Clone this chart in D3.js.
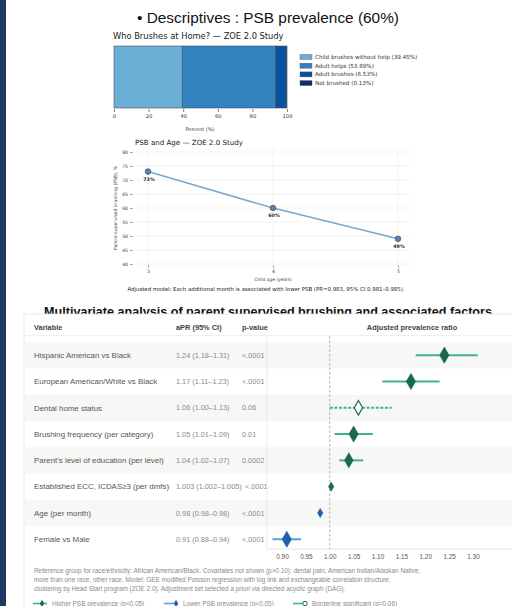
<!DOCTYPE html>
<html>
<head>
<meta charset="utf-8">
<script src="https://cdn.jsdelivr.net/npm/d3@7"></script>
<style>
  html, body { margin: 0; padding: 0; background: #fff; }
  svg { display: block; }
</style>
</head>
<body>
<svg id="slide" width="512" height="606"></svg>
<script>
// ---- Who brushes at home (stacked share) ----
const brushCats = ["Child brushes without help", "Adult helps", "Adult brushes", "Not brushed"];
const brushPct = [39.45, 53.89, 6.53, 0.13];
const brushColors = ["#6baed6", "#3182bd", "#08519c", "#08306b"];
const pctTicks = [0, 20, 40, 60, 80, 100];

// ---- PSB by child age ----
const ages = [3, 4, 5];
const psbPct = [73, 60, 49];
const psbTicks = [40, 45, 50, 55, 60, 65, 70, 75, 80];

// ---- Multivariate model (adjusted prevalence ratios) ----
const variables = [
  "Hispanic American vs Black",
  "European American/White vs Black",
  "Dental home status",
  "Brushing frequency (per category)",
  "Parent's level of education (per level)",
  "Established ECC, ICDAS\u22653 (per dmfs)",
  "Age (per month)",
  "Female vs Male"
];
const aprLabels = ["1.24 (1.18\u20131.31)", "1.17 (1.11\u20131.23)", "1.06 (1.00\u20131.13)", "1.05 (1.01\u20131.09)",
  "1.04 (1.02\u20131.07)", "1.003 (1.002\u20131.005)", "0.98 (0.98\u20130.98)", "0.91 (0.88\u20130.94)"];
const aprEst = [1.24, 1.17, 1.06, 1.05, 1.04, 1.003, 0.98, 0.91];
const aprLow = [1.18, 1.11, 1.00, 1.01, 1.02, 1.002, 0.98, 0.88];
const aprHigh = [1.31, 1.23, 1.13, 1.09, 1.07, 1.005, 0.98, 0.94];
const pValues = ["<.0001", "<.0001", "0.06", "0.01", "0.0002", "<.0001", "<.0001", "<.0001"];
const effect = ["higher", "higher", "borderline", "higher", "higher", "higher", "lower", "lower"];
const aprTicks = [0.90, 0.95, 1.00, 1.05, 1.10, 1.15, 1.20, 1.25, 1.30];
const footnotes = [
  "Reference group for race/ethnicity: African American/Black. Covariates not shown (p>0.10): dental pain, American Indian/Alaskan Native,",
  "more than one race, other race. Model: GEE modified Poisson regression with log link and exchangeable correlation structure,",
  "clustering by Head Start program (ZOE 2.0). Adjustment set selected a priori via directed acyclic graph (DAG)."
];
const legendItems = [
  { key: "higher", label: "Higher PSB prevalence (p<0.05)" },
  { key: "lower", label: "Lower PSB prevalence (p<0.05)" },
  { key: "borderline", label: "Borderline significant (p=0.06)" }
];

const svg = d3.select("#slide");
const sans = "'Liberation Sans', Arial, sans-serif";
const dejavu = "'DejaVu Sans', sans-serif";

// left accent strip
svg.append("rect").attr("x", 0).attr("y", 0).attr("width", 6).attr("height", 606).attr("fill", "#1f3864");

// slide heading
svg.append("text").attr("x", 268).attr("y", 23).attr("text-anchor", "middle")
  .attr("font-family", sans).attr("font-size", 15.4).attr("fill", "#111")
  .text("\u2022 Descriptives : PSB prevalence (60%)");

// ================= stacked bar =================
{
  const g = svg.append("g");
  g.append("text").attr("x", 113).attr("y", 39).attr("font-family", dejavu).attr("font-size", 8.3).attr("fill", "#222")
    .text("Who Brushes at Home? \u2014 ZOE 2.0 Study");
  const x = d3.scaleLinear().domain([0, 100]).range([114, 287]);
  const y0 = 46, y1 = 108;
  let acc = 0;
  const segs = brushPct.map((v, i) => { const s = { start: acc, end: acc + v, i }; acc += v; return s; });
  g.selectAll("rect.seg").data(segs).join("rect").attr("class", "seg")
    .attr("x", d => x(d.start)).attr("y", y0)
    .attr("width", d => x(d.end) - x(d.start)).attr("height", y1 - y0)
    .attr("fill", d => brushColors[d.i]).attr("stroke", "#4a5560").attr("stroke-width", 0.6);
  const ax = g.append("g").attr("transform", `translate(0,${y1 + 1})`)
    .call(d3.axisBottom(x).tickValues(pctTicks).tickSize(3).tickPadding(2));
  ax.select(".domain").remove();
  ax.selectAll("line").attr("stroke", "#333").attr("stroke-width", 0.6);
  ax.selectAll("text").attr("font-family", dejavu).attr("font-size", 5.2).attr("fill", "#333");
  g.append("text").attr("x", 200).attr("y", 131).attr("text-anchor", "middle")
    .attr("font-family", dejavu).attr("font-size", 5).attr("fill", "#333").text("Percent (%)");
  // legend
  const lg = g.selectAll("g.lg").data(brushCats).join("g").attr("class", "lg")
    .attr("transform", (d, i) => `translate(300,${57 + i * 8.7})`);
  lg.append("rect").attr("x", 0).attr("y", -2.5).attr("width", 12).attr("height", 5)
    .attr("fill", (d, i) => brushColors[i]).attr("stroke", "#556").attr("stroke-width", 0.4);
  lg.append("text").attr("x", 15).attr("y", 2).attr("font-family", dejavu).attr("font-size", 5.6).attr("fill", "#333")
    .text((d, i) => `${d} (${brushPct[i].toFixed(2)}%)`);
}

// ================= line chart =================
{
  const g = svg.append("g");
  g.append("text").attr("x", 135).attr("y", 145).attr("font-family", dejavu).attr("font-size", 7.1).attr("fill", "#222")
    .text("PSB and Age \u2014 ZOE 2.0 Study");
  const x = d3.scaleLinear().domain([3, 5]).range([148, 398]);
  const y = d3.scaleLinear().domain([40, 80]).range([264, 152]);
  const left = 135, right = 412;
  // grid
  g.selectAll("line.hg").data(psbTicks).join("line").attr("class", "hg")
    .attr("x1", left).attr("x2", right).attr("y1", d => y(d)).attr("y2", d => y(d))
    .attr("stroke", "#ebebeb").attr("stroke-width", 0.6);
  g.selectAll("line.vg").data(ages).join("line").attr("class", "vg")
    .attr("x1", d => x(d)).attr("x2", d => x(d)).attr("y1", y(80) - 4).attr("y2", y(40))
    .attr("stroke", "#ebebeb").attr("stroke-width", 0.6);
  const ay = g.append("g").attr("transform", `translate(${left - 2},0)`)
    .call(d3.axisLeft(y).tickValues(psbTicks).tickSize(3).tickPadding(2));
  ay.select(".domain").remove();
  ay.selectAll("line").attr("stroke", "#555").attr("stroke-width", 0.5);
  ay.selectAll("text").attr("font-family", dejavu).attr("font-size", 4.6).attr("fill", "#444");
  const ax = g.append("g").attr("transform", `translate(0,${y(40) + 1})`)
    .call(d3.axisBottom(x).tickValues(ages).tickFormat(d3.format("d")).tickSize(3).tickPadding(1.5));
  ax.select(".domain").remove();
  ax.selectAll("line").attr("stroke", "#555").attr("stroke-width", 0.5);
  ax.selectAll("text").attr("font-family", dejavu).attr("font-size", 4.8).attr("fill", "#444");
  g.append("text").attr("x", 273).attr("y", 281).attr("text-anchor", "middle")
    .attr("font-family", dejavu).attr("font-size", 4.4).attr("fill", "#444").text("Child age (years)");
  g.append("text").attr("transform", `translate(117,${y(60)}) rotate(-90)`).attr("text-anchor", "middle")
    .attr("font-family", dejavu).attr("font-size", 4.6).attr("fill", "#444").text("Parent-supervised brushing (PSB), %");
  const pts = ages.map((a, i) => ({ a, v: psbPct[i] }));
  g.append("path").datum(pts)
    .attr("d", d3.line().x(d => x(d.a)).y(d => y(d.v)))
    .attr("fill", "none").attr("stroke", "#7aa9cf").attr("stroke-width", 1.6);
  g.selectAll("circle.pt").data(pts).join("circle").attr("class", "pt")
    .attr("cx", d => x(d.a)).attr("cy", d => y(d.v)).attr("r", 2.8)
    .attr("fill", "#5e84ab").attr("stroke", "#33506f").attr("stroke-width", 0.7);
  g.selectAll("text.pl").data(pts).join("text").attr("class", "pl")
    .attr("x", d => x(d.a) + 1).attr("y", d => y(d.v) + 9).attr("text-anchor", "middle")
    .attr("font-family", dejavu).attr("font-size", 4.8).attr("font-weight", "bold").attr("fill", "#222")
    .text(d => d.v + "%");
  g.append("text").attr("x", 266).attr("y", 291).attr("text-anchor", "middle")
    .attr("font-family", dejavu).attr("font-size", 5.4).attr("fill", "#222")
    .text("Adjusted model: Each additional month is associated with lower PSB (PR=0.983, 95% CI 0.981\u20130.985).");
}

// section heading (the panel below overlaps its lower edge)
svg.append("text").attr("x", 268).attr("y", 316).attr("text-anchor", "middle")
  .attr("font-family", sans).attr("font-size", 12.6).attr("font-weight", "bold").attr("fill", "#111")
  .text("Multivariate analysis of parent supervised brushing and associated factors");

// ================= forest panel =================
{
  const g = svg.append("g");
  const top = 314;
  g.append("rect").attr("x", 24).attr("y", top).attr("width", 500).attr("height", 300)
    .attr("fill", "#fff").attr("stroke", "#e3e3e3").attr("stroke-width", 0.8);
  const rowY = d3.scaleBand().domain(d3.range(variables.length)).range([342, 342 + 26.3 * 8]);
  // row shading
  g.selectAll("rect.band").data(d3.range(variables.length).filter(i => i % 2 === 0)).join("rect").attr("class", "band")
    .attr("x", 25).attr("y", i => rowY(i)).attr("width", 490).attr("height", rowY.bandwidth())
    .attr("fill", "#f7f7f5");
  // header
  const hdr = [["Variable", 34], ["aPR (95% CI)", 176], ["p-value", 242]];
  g.selectAll("text.hd").data(hdr).join("text").attr("class", "hd")
    .attr("x", d => d[1]).attr("y", 329.5)
    .attr("font-family", sans).attr("font-size", 7.4).attr("font-weight", "bold").attr("fill", "#444")
    .text(d => d[0]);
  g.append("text").attr("x", 412).attr("y", 329.5).attr("text-anchor", "middle")
    .attr("font-family", sans).attr("font-size", 7.4).attr("font-weight", "bold").attr("fill", "#444")
    .text("Adjusted prevalence ratio");
  g.append("line").attr("x1", 25).attr("x2", 512).attr("y1", 335.5).attr("y2", 335.5)
    .attr("stroke", "#ececec").attr("stroke-width", 0.8);

  const cy = i => rowY(i) + rowY.bandwidth() / 2;
  g.selectAll("text.var").data(variables).join("text").attr("class", "var")
    .attr("x", 34).attr("y", (d, i) => cy(i) + 2.8)
    .attr("font-family", sans).attr("font-size", 7.9).attr("fill", "#555").text(d => d);
  g.selectAll("text.apr").data(aprLabels).join("text").attr("class", "apr")
    .attr("x", 176).attr("y", (d, i) => cy(i) + 2.6)
    .attr("font-family", sans).attr("font-size", 7.3).attr("fill", "#8a8a8a").text(d => d);
  g.selectAll("text.pv").data(pValues).join("text").attr("class", "pv")
    .attr("x", (d, i) => i === 5 ? 245 : 242).attr("y", (d, i) => cy(i) + 2.6)
    .attr("font-family", sans).attr("font-size", 7.3).attr("fill", "#8a8a8a").text(d => d);

  // forest plot
  const x = d3.scaleLinear().domain([0.90, 1.30]).range([282, 473]);
  const plotL = 267, plotB = 549;
  g.append("line").attr("x1", plotL).attr("x2", plotL).attr("y1", 336).attr("y2", plotB)
    .attr("stroke", "#e6e6e6").attr("stroke-width", 0.8);
  g.append("line").attr("x1", plotL).attr("x2", 512).attr("y1", plotB).attr("y2", plotB)
    .attr("stroke", "#dddddd").attr("stroke-width", 0.8);
  g.append("line").attr("x1", x(1)).attr("x2", x(1)).attr("y1", 336).attr("y2", plotB)
    .attr("stroke", "#9a9a9a").attr("stroke-width", 0.8).attr("stroke-dasharray", "2.5,2");
  const ax = g.append("g").attr("transform", `translate(0,${plotB})`)
    .call(d3.axisBottom(x).tickValues(aprTicks).tickFormat(d3.format(".2f")).tickSize(0).tickPadding(5));
  ax.select(".domain").remove();
  ax.selectAll("text").attr("font-family", sans).attr("font-size", 6.4).attr("fill", "#555");

  const lineCol = { higher: "#3fb48a", borderline: "#3fb48a", lower: "#5b9fdc" };
  const markCol = { higher: "#18694e", borderline: "#18694e", lower: "#1f5fae" };
  const rows = variables.map((v, i) => ({ i, est: aprEst[i], lo: aprLow[i], hi: aprHigh[i], k: effect[i] }));
  g.selectAll("line.ci").data(rows).join("line").attr("class", "ci")
    .attr("x1", d => x(d.lo)).attr("x2", d => x(d.hi)).attr("y1", d => cy(d.i)).attr("y2", d => cy(d.i))
    .attr("stroke", d => lineCol[d.k]).attr("stroke-width", 2)
    .attr("stroke-dasharray", d => d.k === "borderline" ? "3,1.6" : null);
  const sz = [75, 75, 60, 75, 65, 24, 24, 75];
  g.selectAll("path.est").data(rows).join("path").attr("class", "est")
    .attr("transform", d => `translate(${x(d.est)},${cy(d.i)})`)
    .attr("d", d => d3.symbol(d3.symbolDiamond, sz[d.i])())
    .attr("fill", d => d.k === "borderline" ? "#fff" : markCol[d.k])
    .attr("stroke", d => markCol[d.k]).attr("stroke-width", d => d.k === "borderline" ? 1.2 : 0.6);

  // notes
  g.selectAll("text.fn").data(footnotes).join("text").attr("class", "fn")
    .attr("x", 34).attr("y", (d, i) => 573 + i * 9.1)
    .attr("font-family", sans).attr("font-size", 6.4).attr("fill", "#8a8a8a").text(d => d);

  // legend
  const legX = [33, 164, 293];
  const lg = g.selectAll("g.leg").data(legendItems).join("g").attr("class", "leg")
    .attr("transform", (d, i) => `translate(${legX[i]},603.5)`);
  lg.append("line").attr("x1", 0).attr("x2", 14).attr("y1", 0).attr("y2", 0)
    .attr("stroke", d => lineCol[d.key]).attr("stroke-width", 1.6);
  lg.filter(d => d.key !== "borderline").append("path")
    .attr("transform", d => `translate(${d.key === "higher" ? 9 : 12},0)`)
    .attr("d", d3.symbol(d3.symbolDiamond, 16)())
    .attr("fill", d => markCol[d.key]);
  lg.filter(d => d.key === "borderline").append("circle")
    .attr("cx", 12).attr("cy", 0).attr("r", 2.2).attr("fill", "#fff")
    .attr("stroke", markCol.borderline).attr("stroke-width", 1);
  lg.append("text").attr("x", 19).attr("y", 2.2).attr("font-family", sans).attr("font-size", 6.4).attr("fill", "#8a8a8a")
    .text(d => d.label);
}
</script>
</body>
</html>
